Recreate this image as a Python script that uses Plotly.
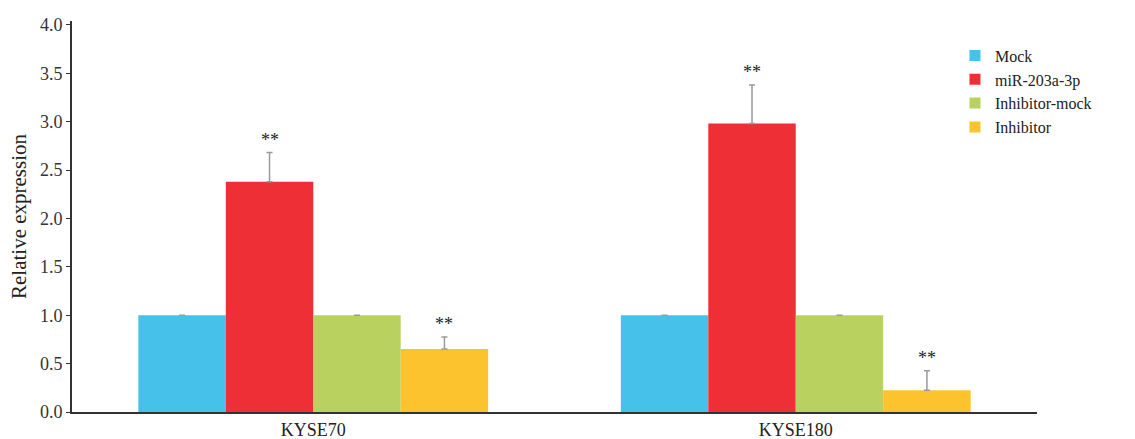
import plotly.graph_objects as go

categories = ["KYSE70", "KYSE180"]
series = ["Mock", "miR-203a-3p", "Inhibitor-mock", "Inhibitor"]
colors = ["#46C1E9", "#EE2F36", "#B9D25F", "#FCC32E"]
values = {
    "Mock": [1.0, 1.0],
    "miR-203a-3p": [2.38, 2.98],
    "Inhibitor-mock": [1.0, 1.0],
    "Inhibitor": [0.65, 0.225],
}
errors = {
    "Mock": [0.0, 0.0],
    "miR-203a-3p": [0.30, 0.40],
    "Inhibitor-mock": [0.0, 0.0],
    "Inhibitor": [0.125, 0.20],
}
stars = {
    "Mock": ["", ""],
    "miR-203a-3p": ["**", "**"],
    "Inhibitor-mock": ["", ""],
    "Inhibitor": ["**", "**"],
}
yticks = [0.0, 0.5, 1.0, 1.5, 2.0, 2.5, 3.0, 3.5, 4.0]

FONT = "Times New Roman, Liberation Serif, serif"
fig = go.Figure()
for s, c in zip(series, colors):
    fig.add_trace(go.Bar(
        x=categories, y=values[s], name=s, marker=dict(color=c, line=dict(width=0)),
        error_y=dict(type="data", array=errors[s], arrayminus=[0] * len(errors[s]),
                     symmetric=False, color="#9a9a9a", thickness=1.5, width=3),
        showlegend=False,
    ))
    fig.add_trace(go.Scatter(
        x=[None], y=[None], mode="markers", name=s,
        marker=dict(symbol="square", size=11, color=c),
    ))

# significance stars
n = len(series)
for i, s in enumerate(series):
    for j, cat in enumerate(categories):
        if stars[s][j]:
            fig.add_annotation(
                x=j + (i - (n - 1) / 2) * 0.725 / n, xref="x",
                y=values[s][j] + errors[s][j], yref="y",
                text=stars[s][j], showarrow=False, yanchor="bottom", yshift=1,
                font=dict(family=FONT, size=18, color="#222"),
            )

fig.update_layout(
    width=1135, height=439,
    margin=dict(l=72, r=98, t=21, b=27),
    paper_bgcolor="white", plot_bgcolor="white",
    barmode="group", bargap=0.275, bargroupgap=0,
    font=dict(family=FONT, size=17, color="#222"),
    legend=dict(x=0.915, y=0.955, xanchor="left", yanchor="top",
                font=dict(family=FONT, size=16, color="#222"),
                tracegroupgap=0, itemwidth=30, bgcolor="rgba(0,0,0,0)"),
    showlegend=True,
)
fig.update_xaxes(
    type="category", range=[-0.5, 1.5], showline=True, linecolor="#333", linewidth=2,
    ticks="", showgrid=False, automargin=False,
    tickfont=dict(family=FONT, size=18, color="#222"),
)
fig.update_yaxes(
    range=[0, 4.04], tickvals=yticks, ticktext=[f"{v:.1f}" for v in yticks],
    showline=True, linecolor="#333", linewidth=2, ticks="outside", ticklen=4,
    tickcolor="#333", showgrid=False, zeroline=False, automargin=False,
    title=dict(text="Relative expression", font=dict(family=FONT, size=21, color="#222"), standoff=8),
    tickfont=dict(family=FONT, size=18, color="#333"),
)

fig.write_html("out.html")
